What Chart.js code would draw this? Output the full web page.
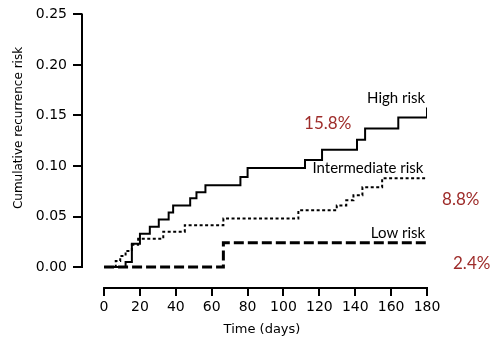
<!DOCTYPE html>
<html>
<head>
<meta charset="utf-8">
<script src="https://cdn.jsdelivr.net/npm/chart.js@4.4.1/dist/chart.umd.min.js"></script>
<style>
  html, body { margin: 0; padding: 0; background: #fff; }
</style>
</head>
<body>
<canvas id="riskChart" width="493" height="338"></canvas>
<script>
// tick labels
const xTicks = [0, 20, 40, 60, 80, 100, 120, 140, 160, 180];
const yTicks = [0, 0.05, 0.10, 0.15, 0.20, 0.25];

// cumulative recurrence, value reached at each day (step function)
const highDays = [0, 12, 15.5, 20, 25.5, 30.5, 36, 38.5, 48, 51.5, 56.5, 76, 80, 112, 121.5, 141, 145.5, 164, 180];
const highRisk = [0, 0.005, 0.023, 0.033, 0.040, 0.047, 0.054, 0.061, 0.068, 0.074, 0.081, 0.089, 0.098, 0.106, 0.116, 0.126, 0.137, 0.148, 0.158];

const midDays = [0, 6.5, 9, 12, 15.5, 19, 33, 45, 66.5, 108.3, 129.7, 135, 139, 144, 155, 180];
const midRisk = [0, 0.006, 0.011, 0.016, 0.022, 0.028, 0.035, 0.0415, 0.048, 0.0563, 0.061, 0.066, 0.071, 0.079, 0.088, 0.088];

const lowDays = [0, 66.5, 180];
const lowRisk = [0, 0.024, 0.024];

const groupNames = ['High risk', 'Intermediate risk', 'Low risk'];
const finalRisk = ['15.8%', '8.8%', '2.4%'];

const toPoints = (days, vals) => days.map((d, i) => ({ x: d, y: vals[i] }));

const tickFont = { family: '"DejaVu Sans", sans-serif', size: 14 };
const labelFont = '15px Lato, sans-serif';
const pctColor = '#9e2c2a';

// offset axes, titles and end-of-curve labels
const decorations = {
  id: 'decorations',
  afterDraw(chart) {
    const { ctx, chartArea, scales: { x, y } } = chart;
    ctx.save();
    ctx.strokeStyle = '#000';
    ctx.lineWidth = 2;
    ctx.beginPath();
    ctx.moveTo(chartArea.left, y.getPixelForValue(yTicks[0]) + 1);
    ctx.lineTo(chartArea.left, y.getPixelForValue(yTicks[yTicks.length - 1]) - 1);
    ctx.moveTo(x.getPixelForValue(xTicks[0]) - 1, chartArea.bottom);
    ctx.lineTo(x.getPixelForValue(xTicks[xTicks.length - 1]) + 1, chartArea.bottom);
    ctx.stroke();

    // axis titles
    ctx.fillStyle = '#000';
    ctx.textAlign = 'center';
    ctx.textBaseline = 'middle';
    ctx.font = '13px "DejaVu Sans", sans-serif';
    ctx.fillText('Time (days)', 262, 330);
    ctx.font = '12px "DejaVu Sans", sans-serif';
    ctx.translate(19, 128);
    ctx.rotate(-Math.PI / 2);
    ctx.fillText('Cumulative recurrence risk', 0, 0);
    ctx.setTransform(1, 0, 0, 1, 0, 0);

    // group names, right aligned at the end of the curves
    ctx.font = labelFont;
    ctx.textAlign = 'right';
    ctx.fillText(groupNames[0], x.getPixelForValue(179), y.getPixelForValue(0.167));
    ctx.fillText(groupNames[1], x.getPixelForValue(178), y.getPixelForValue(0.098));
    ctx.fillText(groupNames[2], x.getPixelForValue(179), y.getPixelForValue(0.0336));

    // final percentages
    ctx.fillStyle = pctColor;
    ctx.font = '17px Lato, sans-serif';
    ctx.textAlign = 'left';
    ctx.fillText(finalRisk[0], x.getPixelForValue(111.5), y.getPixelForValue(0.142));
    ctx.fillText(finalRisk[1], x.getPixelForValue(188.4), y.getPixelForValue(0.067));
    ctx.fillText(finalRisk[2], x.getPixelForValue(194.5), y.getPixelForValue(0.004));
    ctx.restore();
  }
};

const ctx = document.getElementById('riskChart').getContext('2d');

const chart = new Chart(ctx, {
  type: 'line',
  data: {
    datasets: [
      {
        label: groupNames[0],
        data: toPoints(highDays, highRisk),
        borderColor: '#000',
        borderWidth: 2,
        stepped: true
      },
      {
        label: groupNames[1],
        data: toPoints(midDays, midRisk),
        borderColor: '#000',
        borderWidth: 2,
        borderDash: [3, 2.5],
        stepped: true
      },
      {
        label: groupNames[2],
        data: toPoints(lowDays, lowRisk),
        borderColor: '#000',
        borderWidth: 3,
        borderDash: [10, 4],
        stepped: true
      }
    ]
  },
  options: {
    responsive: false,
    animation: false,
    devicePixelRatio: 1,
    layout: { padding: { top: 14, right: 66, left: 0, bottom: 0 } },
    elements: { point: { radius: 0 }, line: { fill: false } },
    plugins: { legend: { display: false }, tooltip: { enabled: false } },
    scales: {
      x: {
        type: 'linear',
        min: -12.3,
        max: 180,
        afterBuildTicks: s => { s.ticks = xTicks.map(v => ({ value: v })); },
        afterFit: s => { s.height = 50; },
        ticks: { font: tickFont, color: '#000', padding: 3, maxRotation: 0, autoSkip: false },
        grid: { drawOnChartArea: false, tickLength: 8, color: '#000', lineWidth: 2 },
        border: { display: false }
      },
      y: {
        type: 'linear',
        min: -0.0207,
        max: 0.25,
        afterBuildTicks: s => { s.ticks = yTicks.map(v => ({ value: v })); },
        afterFit: s => { s.width = 82; },
        ticks: { font: tickFont, color: '#000', padding: 6, callback: v => v.toFixed(2) },
        grid: { drawOnChartArea: false, tickLength: 9, color: '#000', lineWidth: 2 },
        border: { display: false }
      }
    }
  },
  plugins: [decorations]
});
</script>
</body>
</html>
